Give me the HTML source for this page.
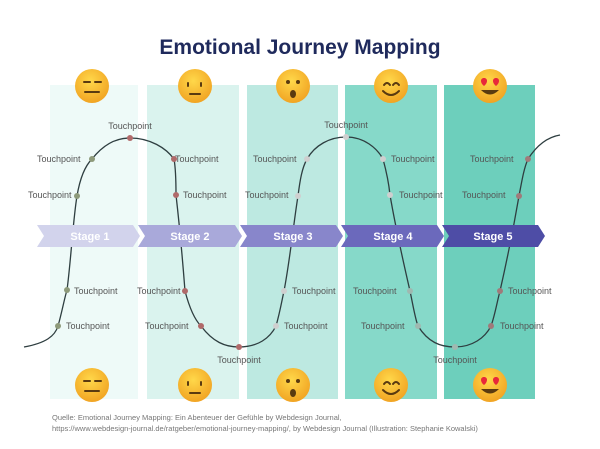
<!DOCTYPE html>
<html><head><meta charset="utf-8"><style>
html,body{margin:0;padding:0;background:#fff;}
svg{display:block;font-family:"Liberation Sans",sans-serif;}
</style></head><body>
<svg width="600" height="449" viewBox="0 0 600 449">
<rect width="600" height="449" fill="#fff"/>
<text x="300" y="54" text-anchor="middle" font-size="21" font-weight="bold" fill="#1f2a5c">Emotional Journey Mapping</text>
<rect x="50" y="85" width="88" height="314" fill="#eefaf8"/>
<rect x="147" y="85" width="92" height="314" fill="#daf3ee"/>
<rect x="247" y="85" width="91" height="314" fill="#bde9e1"/>
<rect x="345" y="85" width="92" height="314" fill="#86d9c9"/>
<rect x="444" y="85" width="91" height="314" fill="#6dcfbc"/>
<path d="M24,347 C46,343 55,336 58,326 C62,312 64,300 67,290 C71,260 73,220 77,196 C80,178 85,166 92,159 C103,145 115,138 130,138 C150,138 166,148 174,159 C176,170 176,185 176,195 C180,230 183,265 185,291 C190,310 195,320 201,326 C213,342 225,347 239,347 C258,347 270,338 276,326 C280,312 282,300 284,291 C290,260 294,220 298,196 C300,180 302,168 307,159 C315,145 330,137 346,137 C364,137 377,148 383,159 C386,170 389,185 390,195 C396,230 404,265 410,291 C413,305 415,318 418,326 C428,342 440,347 455,347 C472,347 485,338 491,326 C495,315 497,302 500,291 C507,260 514,225 519,196 C522,180 524,168 528,159 C537,145 548,137 560,135" fill="none" stroke="#2e3e40" stroke-width="1.3"/>
<!-- stages -->
<g font-size="11" font-weight="bold" fill="#fff" text-anchor="middle">
<polygon points="37,225 133,225 140,236 133,247 37,247 44,236" fill="#d2d3ec"/>
<text x="90" y="240">Stage 1</text>
<polygon points="138,225 235,225 242,236 235,247 138,247 145,236" fill="#a9a9da"/>
<text x="190" y="240">Stage 2</text>
<polygon points="240,225 336,225 343,236 336,247 240,247 247,236" fill="#8886cb"/>
<text x="293" y="240">Stage 3</text>
<polygon points="341,225 437,225 444,236 437,247 341,247 348,236" fill="#6b69bc"/>
<text x="393" y="240">Stage 4</text>
<polygon points="442,225 538,225 545,236 538,247 442,247 449,236" fill="#4e4da6"/>
<text x="493" y="240">Stage 5</text>
</g>
<g>
<circle cx="58" cy="326" r="3" fill="#8d9a7a"/><circle cx="67" cy="290" r="3" fill="#8d9a7a"/>
<circle cx="77" cy="196" r="3" fill="#8d9a7a"/><circle cx="92" cy="159" r="3" fill="#8d9a7a"/>
<circle cx="130" cy="138" r="3" fill="#b06a6a"/>
<circle cx="174" cy="159" r="3" fill="#b06a6a"/><circle cx="176" cy="195" r="3" fill="#b06a6a"/>
<circle cx="185" cy="291" r="3" fill="#b06a6a"/><circle cx="201" cy="326" r="3" fill="#b06a6a"/>
<circle cx="239" cy="347" r="3" fill="#b06a6a"/>
<circle cx="276" cy="326" r="3" fill="#cfcfcf"/><circle cx="284" cy="291" r="3" fill="#cfcfcf"/>
<circle cx="298" cy="196" r="3" fill="#cfcfcf"/><circle cx="307" cy="159" r="3" fill="#cfcfcf"/>
<circle cx="346" cy="137" r="3" fill="#cfcfcf"/>
<circle cx="383" cy="159" r="3" fill="#cfcfcf"/><circle cx="390" cy="195" r="3" fill="#cfcfcf"/>
<circle cx="410" cy="291" r="3" fill="#a0b8b0"/><circle cx="418" cy="326" r="3" fill="#a0b8b0"/>
<circle cx="455" cy="347" r="3" fill="#a0b8b0"/>
<circle cx="491" cy="326" r="3" fill="#a07a7a"/><circle cx="500" cy="291" r="3" fill="#a07a7a"/>
<circle cx="519" cy="196" r="3" fill="#a07a7a"/><circle cx="528" cy="159" r="3" fill="#a07a7a"/>
</g>
<g font-size="9" fill="#555">
<text x="130" y="129" text-anchor="middle">Touchpoint</text>
<text x="37" y="162">Touchpoint</text><text x="28" y="198">Touchpoint</text>
<text x="74" y="294">Touchpoint</text><text x="66" y="329">Touchpoint</text>
<text x="175" y="162">Touchpoint</text><text x="183" y="198">Touchpoint</text>
<text x="137" y="294">Touchpoint</text><text x="145" y="329">Touchpoint</text>
<text x="239" y="363" text-anchor="middle">Touchpoint</text>
<text x="253" y="162">Touchpoint</text><text x="245" y="198">Touchpoint</text>
<text x="292" y="294">Touchpoint</text><text x="284" y="329">Touchpoint</text>
<text x="346" y="128" text-anchor="middle">Touchpoint</text>
<text x="391" y="162">Touchpoint</text><text x="399" y="198">Touchpoint</text>
<text x="353" y="294">Touchpoint</text><text x="361" y="329">Touchpoint</text>
<text x="455" y="363" text-anchor="middle">Touchpoint</text>
<text x="470" y="162">Touchpoint</text><text x="462" y="198">Touchpoint</text>
<text x="508" y="294">Touchpoint</text><text x="500" y="329">Touchpoint</text>
</g>
<defs><radialGradient id="e" cx="0.45" cy="0.35" r="0.7"><stop offset="0" stop-color="#ffd84a"/><stop offset="1" stop-color="#f0a020"/></radialGradient></defs>
<g>
<circle cx="92" cy="86" r="17" fill="url(#e)"/><circle cx="195" cy="86" r="17" fill="url(#e)"/><circle cx="293" cy="86" r="17" fill="url(#e)"/><circle cx="391" cy="86" r="17" fill="url(#e)"/><circle cx="490" cy="86" r="17" fill="url(#e)"/>
<circle cx="92" cy="385" r="17" fill="url(#e)"/><circle cx="195" cy="385" r="17" fill="url(#e)"/><circle cx="293" cy="385" r="17" fill="url(#e)"/><circle cx="391" cy="385" r="17" fill="url(#e)"/><circle cx="490" cy="385" r="17" fill="url(#e)"/>
</g>
<g stroke="#5a3a10" stroke-width="2" fill="none" stroke-linecap="round">
<path d="M84,82h6M95,82h6M85,92h14"/><path d="M84,381h6M95,381h6M85,391h14"/>
<path d="M188,83v3M201,83v3M190,94h10"/><path d="M188,382v3M201,382v3M190,393h10"/>
<path d="M384,85q3,-4 6,0M393,85q3,-4 6,0M383,91q8,8 16,0"/><path d="M384,384q3,-4 6,0M393,384q3,-4 6,0M383,390q8,8 16,0"/>
</g>
<g fill="#5a3a10">
<circle cx="288" cy="82" r="2"/><circle cx="298" cy="82" r="2"/><ellipse cx="293" cy="94" rx="3" ry="4"/>
<circle cx="288" cy="381" r="2"/><circle cx="298" cy="381" r="2"/><ellipse cx="293" cy="393" rx="3" ry="4"/>
<path d="M481,90q9,9 18,0z"/><path d="M481,389q9,9 18,0z"/>
</g>
<g fill="#e8283a">
<path d="M484,78c-4,0-4,5 0,8c4,-3 4,-8 0,-8z"/><path d="M496,78c-4,0-4,5 0,8c4,-3 4,-8 0,-8z"/>
<path d="M484,377c-4,0-4,5 0,8c4,-3 4,-8 0,-8z"/><path d="M496,377c-4,0-4,5 0,8c4,-3 4,-8 0,-8z"/>
</g>
<g font-size="7.5" fill="#777">
<text x="52" y="420">Quelle: Emotional Journey Mapping: Ein Abenteuer der Gefühle by Webdesign Journal,</text>
<text x="52" y="431">https://www.webdesign-journal.de/ratgeber/emotional-journey-mapping/, by Webdesign Journal (Illustration: Stephanie Kowalski)</text>
</g>
</svg>
</body></html>
